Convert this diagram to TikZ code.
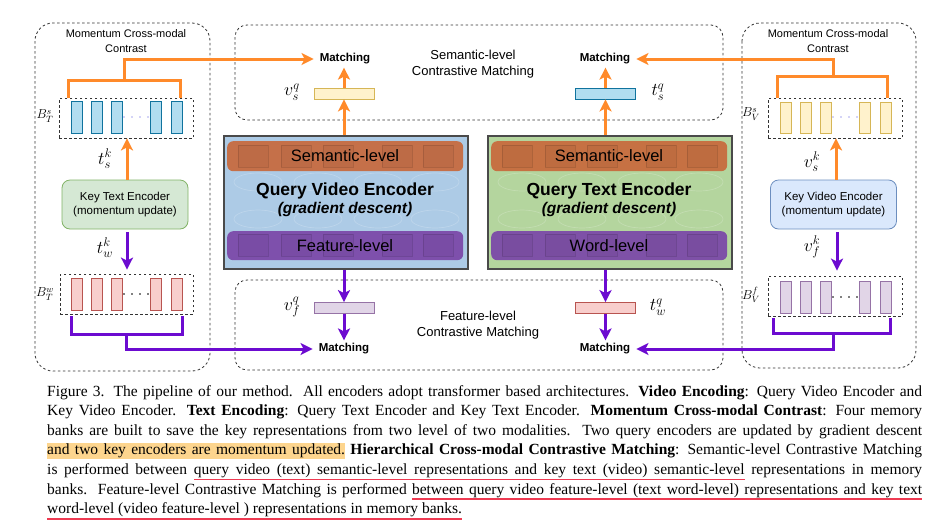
\RequirePackage{fix-cm}
\documentclass[tikz,border=0pt]{standalone}
\usepackage{fontspec}
\setmainfont{Liberation Serif}
\setsansfont{Liberation Sans}
\usetikzlibrary{arrows.meta}
\definecolor{orng}{HTML}{FF8A2A}
\definecolor{purp}{HTML}{6C0BD0}
\definecolor{dashc}{HTML}{333333}
\definecolor{blfill}{HTML}{B1DDF0}\definecolor{bldraw}{HTML}{10739E}
\definecolor{ylfill}{HTML}{FFF2CC}\definecolor{yldraw}{HTML}{D6B656}
\definecolor{pkfill}{HTML}{F8CECC}\definecolor{pkdraw}{HTML}{B85450}
\definecolor{lvfill}{HTML}{E1D5E7}\definecolor{lvdraw}{HTML}{9673A6}
\definecolor{gnfill}{HTML}{D5E8D4}\definecolor{gndraw}{HTML}{82B366}
\definecolor{bfill}{HTML}{DAE8FC}\definecolor{bdraw}{HTML}{6C8EBF}
\definecolor{qvfill}{HTML}{ADCBE6}
\definecolor{qtfill}{HTML}{B4D59E}
\definecolor{barorg}{HTML}{C8693C}
\definecolor{barpur}{HTML}{7A46A8}
\definecolor{encborder}{HTML}{4A4A4A}
\definecolor{hlcol}{HTML}{FDD58E}
\definecolor{ulred}{HTML}{EE3A52}
\definecolor{dotlav}{HTML}{A8A8F0}
% highlighted words, with stretchable highlighted spaces between them
\newcommand\hlite[1]{\mbox{\setbox0=\hbox{{\color{black}#1}}\rlap{\rule[-4pt]{\wd0}{16pt}}\box0}}
\def\hlsp{\leaders\hrule height 12pt depth 4pt\hskip\fontdimen2\font plus\fontdimen3\font minus\fontdimen4\font}
\def\hlwords#1{{\color{hlcol}\hlwA#1 \hlend}}
\def\hlwA#1 #2\hlend{\hlite{#1}\ifx\relax#2\relax\else\hlsp\hlwA#2\hlend\fi}
% underlined words: each bar runs on under the following space
\newbox\ulwordbox
\newdimen\ullen
\newcommand\redul[2]{\mbox{\setbox\ulwordbox=\hbox{#1}\global\ullen=\wd\ulwordbox\global\advance\ullen by #2\relax
  \rlap{\tikz[overlay,baseline=0pt]\fill[ulred] (0pt,-6pt) rectangle (\the\ullen,-4.3pt);}\box\ulwordbox}}
\def\ulwords#1{\ulwA#1 \ulend}
\def\ulwA#1 #2\ulend{\ifx\relax#2\relax\redul{#1}{0pt}\else\redul{#1}{12pt} \ulwA#2\ulend\fi}
\tikzset{
  regionbox/.style={draw=dashc, dash pattern=on 2.5pt off 2.5pt, line width=0.8pt, rounded corners=18pt},
  bankbox/.style={draw=dashc, dash pattern=on 2.5pt off 2.5pt, line width=0.8pt, inner sep=0},
  cell/.style={line width=0.8pt, minimum width=11pt, minimum height=32pt, inner sep=0},
  qbar/.style={line width=0.8pt, minimum width=60pt, minimum height=11pt, inner sep=0},
  orline/.style={draw=orng, line width=3pt},
  puline/.style={draw=purp, line width=3pt},
  arrowhd/.style={-{Stealth[length=12pt,width=12pt,inset=3pt]}},
  matchtxt/.style={font=\sffamily\bfseries\fontsize{11.5}{13}\selectfont, inner xsep=6pt, inner ysep=3pt},
  mlabel/.style={font=\fontsize{18}{20}\selectfont, inner sep=0},
  blabel/.style={font=\fontsize{13}{15}\selectfont, inner sep=0},
  sftitle/.style={font=\sffamily\fontsize{11}{15}\selectfont, align=center, inner sep=0},
  regtitle/.style={font=\sffamily\fontsize{13}{16}\selectfont, align=center, inner sep=0},
  keyenc/.style={rounded corners=8pt, line width=0.8pt, minimum width=126pt, minimum height=49pt, align=center, font=\sffamily\fontsize{11.5}{14}\selectfont},
  encbox/.style={draw=encborder, line width=2pt, minimum width=244pt, minimum height=133pt, inner sep=0},
  barbox/.style={rounded corners=6pt, minimum width=236pt, minimum height=30pt, inner sep=0, fill opacity=0.92},
  ghostsq/.style={draw=black, draw opacity=0.12, line width=0.8pt, fill=black, fill opacity=0.04},
  ghostline/.style={draw=white, draw opacity=0.2, line width=0.7pt},
  bartext/.style={font=\sffamily\fontsize{16.5}{18}\selectfont, inner sep=0},
  enctitle/.style={font=\sffamily\bfseries\fontsize{17.5}{20}\selectfont, inner sep=0},
  encsub/.style={font=\sffamily\bfseries\itshape\fontsize{15.5}{18}\selectfont, inner sep=0},
}
\newcommand\qenc[6]{%
  \begin{scope}[shift={(#2,135)}]
    \node[encbox, fill=#3, anchor=north west] (#1) at (0,0) {};
    \foreach \ex in {35,95,155,212} {
      \draw[ghostline] (\ex,47) ellipse (24pt and 9pt);
      \draw[ghostline] (\ex,84) ellipse (24pt and 9pt);
    }
    \node[barbox, fill=barorg, anchor=north west] (#1top) at (4,6) {};
    \node[barbox, fill=barpur, anchor=north west, minimum height=29pt] (#1bot) at (4,96) {};
    \foreach \sx in {15,58,100,159,200} {
      \draw[ghostsq] (\sx,10) rectangle ++(30,22);
      \draw[ghostsq] (\sx,99) rectangle ++(30,22);
    }
    \node[bartext] (#1toptxt) at (122,21) {#5};
    \node[bartext] (#1bottxt) at (122,110.5) {#6};
    \node[enctitle] (#1title) at (122,56) {#4};
    \node[encsub] (#1sub) at (122,74) {(gradient descent)};
  \end{scope}}
\begin{document}
\begin{tikzpicture}[x=1pt,y=-1pt]
\fill[white] (0,0) rectangle (942,531);
\useasboundingbox (0,0) rectangle (942,531);

% ---------------- regions
\draw[regionbox] (35,23) rectangle (210,371);
\draw[regionbox] (742,23) rectangle (916,368);
\draw[regionbox, rounded corners=12pt] (235,25) rectangle (723,120);
\draw[regionbox, rounded corners=12pt] (235,280) rectangle (723,370);

\node[sftitle] (ltitle) at (126,41.5) {Momentum Cross-modal\\Contrast};
\node[sftitle] (rtitle) at (828,41) {Momentum Cross-modal\\Contrast};
\node[regtitle] (semtitle) at (473,64) {Semantic-level\\Contrastive Matching};
\node[regtitle] (feattitle) at (478,325) {Feature-level\\Contrastive Matching};

% ---------------- query encoders
\qenc{qv}{223}{qvfill}{Query Video Encoder}{Semantic-level}{Feature-level}
\qenc{qt}{487}{qtfill}{Query Text Encoder}{Semantic-level}{Word-level}

% ---------------- query representation bars
\node[qbar, fill=ylfill, draw=yldraw] (vsq) at (344,93.5) {};
\node[qbar, fill=blfill, draw=bldraw] (tsq) at (605.5,93.5) {};
\node[qbar, fill=lvfill, draw=lvdraw] (vfq) at (344,308) {};
\node[qbar, fill=pkfill, draw=pkdraw] (twq) at (605.5,308) {};
\node[mlabel] (lvsq) at (292,92) {$v_s^q$};
\node[mlabel] (ltsq) at (658,92) {$t_s^q$};
\node[mlabel] (lvfq) at (292,307) {$v_f^q$};
\node[mlabel] (ltwq) at (658,307) {$t_w^q$};

% ---------------- matching nodes
\node[matchtxt] (mVs) at (345,59) {Matching};
\node[matchtxt] (mTs) at (605,59) {Matching};
\node[matchtxt] (mVf) at (344,349) {Matching};
\node[matchtxt] (mTf) at (605,349) {Matching};

% ---------------- left column (text keys)
\node[bankbox, minimum width=134pt, minimum height=40pt] (bTs) at (126,118) {};
\foreach \cx [count=\i] in {76.5,96.5,117,156,177}
  \node[cell, fill=blfill, draw=bldraw] (bTs\i) at (\cx,117) {};
\foreach \dx in {124,132,140,148} \fill[dotlav] (\dx,117) circle (0.9pt);
\node[blabel] (lBTs) at (45,116) {$B_T^s$};

\node[keyenc, fill=gnfill, draw=gndraw] (kte) at (125,204.5) {Key Text Encoder\\(momentum update)};
\node[mlabel] (ltsk) at (105,159) {$t_s^k$};
\node[mlabel] (ltwk) at (105,248) {$t_w^k$};

\node[bankbox, minimum width=133pt, minimum height=40pt] (bTw) at (126.5,294) {};
\foreach \cx [count=\i] in {76.5,96.5,117,156,177}
  \node[cell, fill=pkfill, draw=pkdraw] (bTw\i) at (\cx,294) {};
\foreach \dx in {124,132,140,148} \fill[black] (\dx,294) circle (0.9pt);
\node[blabel] (lBTw) at (45,294) {$B_T^w$};

% ---------------- right column (video keys)
\node[bankbox, minimum width=134pt, minimum height=40pt] (bVs) at (835,118) {};
\foreach \cx [count=\i] in {785.5,805.5,825.5,864.5,885.5}
  \node[cell, fill=ylfill, draw=yldraw, minimum height=31pt] (bVs\i) at (\cx,117.5) {};
\foreach \dx in {833,841,849,857} \fill[dotlav] (\dx,117) circle (0.9pt);
\node[blabel] (lBVs) at (751,114) {$B_V^s$};

\node[keyenc, fill=bfill, draw=bdraw] (kve) at (833.5,204.5) {Key Video Encoder\\(momentum update)};
\node[mlabel] (lvsk) at (812,162) {$v_s^k$};
\node[mlabel] (lvfk) at (812,247) {$v_f^k$};

\node[bankbox, minimum width=134pt, minimum height=40pt] (bVf) at (835,296) {};
\foreach \cx [count=\i] in {785.5,805.5,825.5,864.5,885.5}
  \node[cell, fill=lvfill, draw=lvdraw] (bVf\i) at (\cx,297) {};
\foreach \dx in {833,841,849,857} \fill[black] (\dx,297) circle (0.9pt);
\node[blabel] (lBVf) at (751,295) {$B_V^f$};

% ---------------- connectors: query side
\draw[orline, arrowhd] (vsq.south |- qv.north) -- (vsq.south);
\draw[orline, arrowhd] (vsq.north) -- (mVs.south -| vsq.north);
\draw[orline, arrowhd] (tsq.south |- qt.north) -- (tsq.south);
\draw[orline, arrowhd] (tsq.north) -- (mTs.south -| tsq.north);
\draw[puline, arrowhd] (vfq.north |- qv.south) -- (vfq.north);
\draw[puline, arrowhd] (vfq.south) -- (mVf.north -| vfq.south);
\draw[puline, arrowhd] (twq.north |- qt.south) -- (twq.north);
\draw[puline, arrowhd] (twq.south) -- (mTf.north -| twq.south);

% ---------------- connectors: key encoders to banks
\draw[orline, arrowhd] ([xshift=2pt]kte.north) -- ([xshift=1pt]bTs.south);
\draw[puline, arrowhd] ([xshift=2pt,yshift=-3pt]kte.south) -- ([xshift=0.5pt,yshift=4pt]bTw.north);
\draw[orline, arrowhd] ([xshift=2.5pt]kve.north) -- ([xshift=1pt]bVs.south);
\draw[puline, arrowhd] ([xshift=3.5pt,yshift=-3pt]kve.south) -- ([xshift=2pt,yshift=5pt]bVf.north);

% ---------------- bank brackets to matching
\coordinate (lsstem) at (124,80);
\draw[orline] (68,98) -- (68,80) -- (180,80) -- (180,98);
\draw[orline, arrowhd] (lsstem) |- (mVs.west);
\coordinate (lwstem) at (126,334);
\draw[puline] (71,316) -- (71,334) -- (182,334) -- (182,316);
\draw[puline, arrowhd] (lwstem) |- (mVf.west);
\coordinate (rsstem) at (833,76);
\draw[orline] (777,98) -- (777,76) -- (887,76) -- (887,98);
\draw[orline, arrowhd] (rsstem) |- (mTs.east);
\coordinate (rfstem) at (833,333);
\draw[puline] (773,318) -- (773,333) -- (890,333) -- (890,318);
\draw[puline, arrowhd] (rfstem) |- (mTf.east);

% ---------------- caption
\node[anchor=base west, inner sep=0] (caption) at (47,396) {\parbox[t]{875pt}{\fontsize{15.5}{19.6}\selectfont
\makebox[875pt][s]{Figure 3. The pipeline of our method.\ \ All encoders adopt transformer based architectures. \textbf{Video Encoding}: Query Video Encoder and}\\
\makebox[875pt][s]{Key Video Encoder. \textbf{Text Encoding}: Query Text Encoder and Key Text Encoder. \textbf{Momentum Cross-modal Contrast}: Four memory}\\
\makebox[875pt][s]{banks are built to save the key representations from two level of two modalities.\ \ Two query encoders are updated by gradient descent}\\
\makebox[875pt][s]{\hlwords{and two key encoders are momentum updated.} \textbf{Hierarchical Cross-modal Contrastive Matching}: Semantic-level Contrastive Matching}\\
\makebox[875pt][s]{is performed between \ulwords{query video (text) semantic-level representations and key text (video) semantic-level} representations in memory}\\
\makebox[875pt][s]{banks.\ \ Feature-level Contrastive Matching is performed \ulwords{between query video feature-level (text word-level) representations and key text}}\\
\ulwords{word-level (video feature-level ) representations in memory banks.}}};
\end{tikzpicture}
\end{document}
